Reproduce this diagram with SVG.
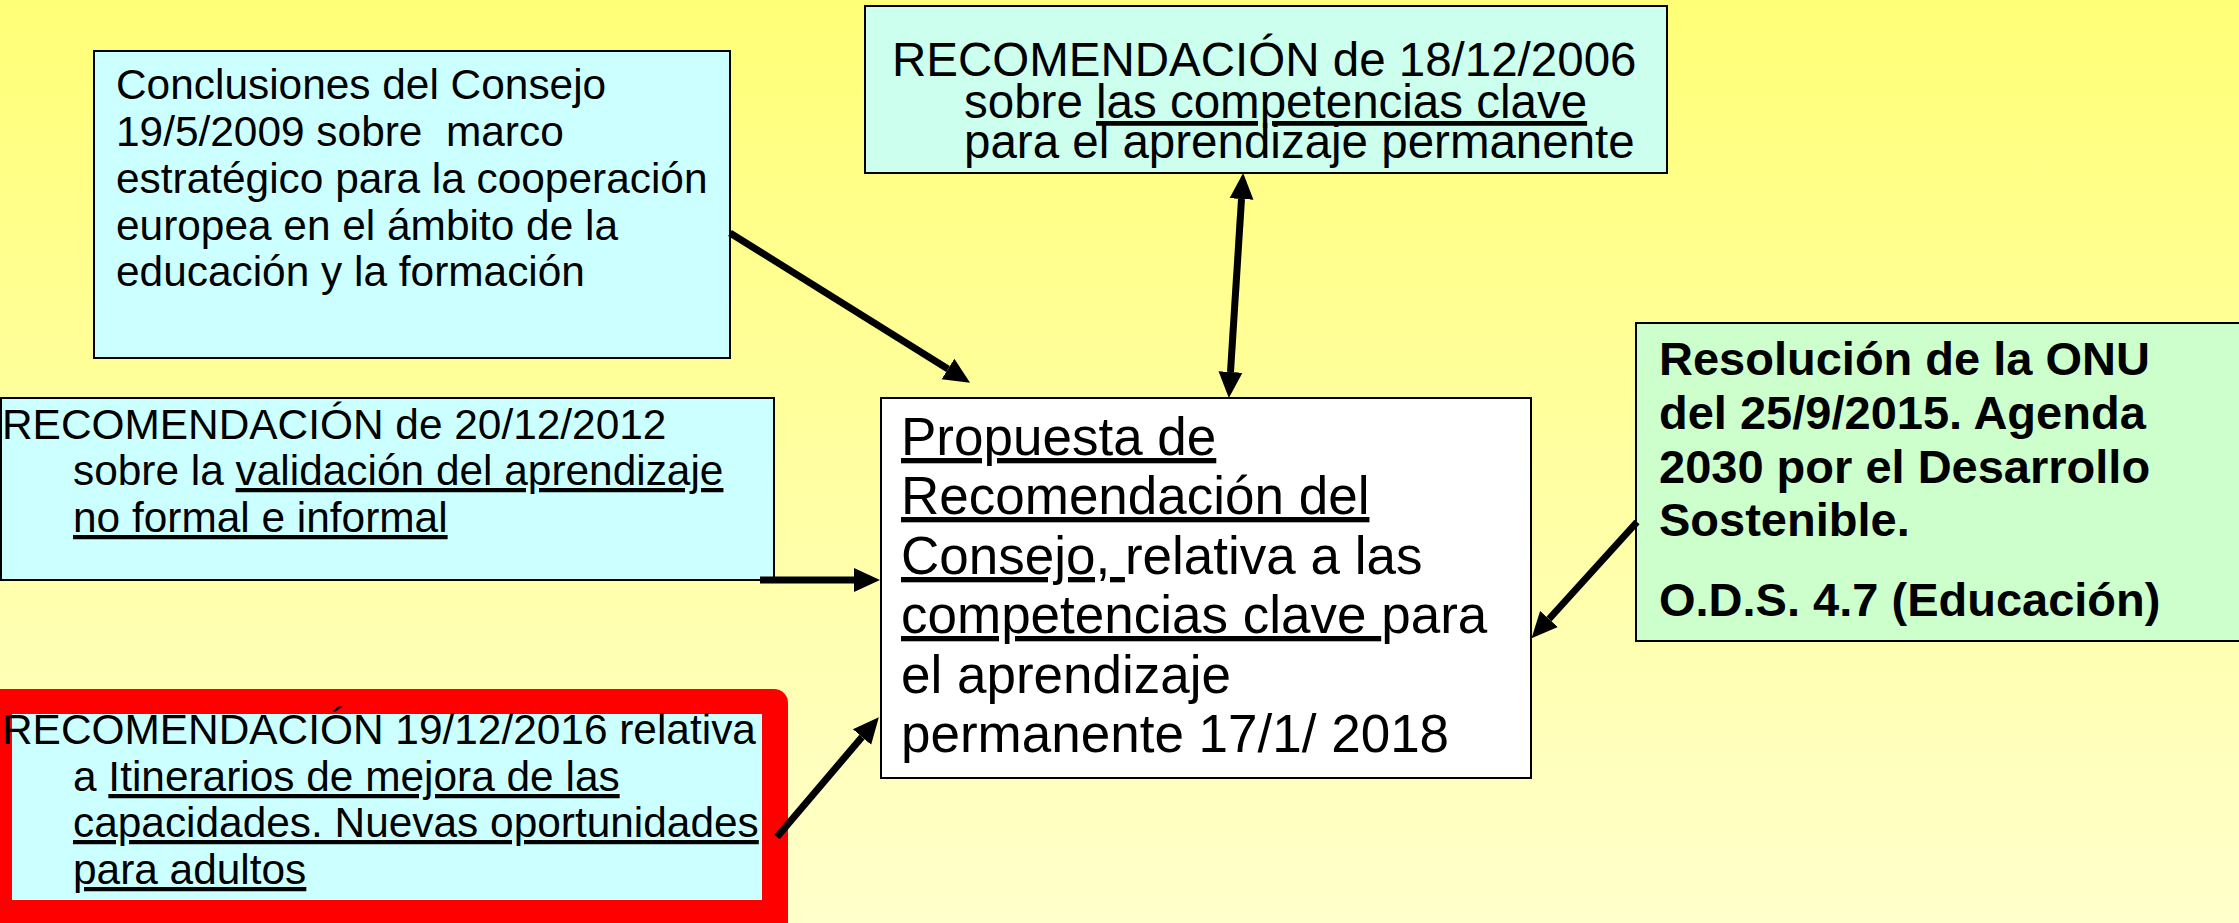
<svg xmlns="http://www.w3.org/2000/svg" width="2239" height="923" viewBox="0 0 2239 923">
<defs>
<linearGradient id="bg" x1="0" y1="0" x2="0" y2="1">
<stop offset="0" stop-color="#FFFF77"/>
<stop offset="1" stop-color="#FFFFCC"/>
</linearGradient>
<marker id="ah" markerUnits="userSpaceOnUse" markerWidth="26" markerHeight="26" refX="0" refY="12" orient="auto-start-reverse" viewBox="0 0 26 24">
<path d="M0,0 L26,12 L0,24 z" fill="#000"/>
</marker>
<style>
text{font-family:"Liberation Sans",Arial,sans-serif;fill:#000;white-space:pre}
.f42{font-size:42.4px}
.f47{font-size:47.5px}
.fb{font-size:47px}
.f52{font-size:53px}
.b{font-weight:bold}
.box{stroke:#000;stroke-width:2}
.u{text-decoration:underline}
.conn line{stroke:#000;stroke-width:7;marker-end:url(#ah)}
</style>
</defs>
<rect x="0" y="0" width="2239" height="923" fill="url(#bg)"/>

<g id="n-conclusiones">
<rect class="box" x="94" y="51" width="636" height="307" fill="#CCFFFF"/>
<text class="f42" x="116" y="99">Conclusiones del Consejo</text>
<text class="f42" x="116" y="146">19/5/2009 sobre  marco</text>
<text class="f42" x="116" y="193">estratégico para la cooperación</text>
<text class="f42" x="116" y="240">europea en el ámbito de la</text>
<text class="f42" x="116" y="286">educación y la formación</text>
</g>

<g id="n-rec2006">
<rect class="box" x="865" y="6" width="802" height="167" fill="#CCFFEE"/>
<text class="f47" x="892" y="76">RECOMENDACIÓN de 18/12/2006</text>
<text class="f47" x="964" y="118">sobre <tspan class="u">las competencias clave</tspan></text>
<text class="f47" x="964" y="158">para el aprendizaje permanente</text>
</g>

<g id="n-rec2012">
<rect class="box" x="1" y="398" width="773" height="182" fill="#CCFFFF"/>
<text class="f42" x="2" y="439">RECOMENDACIÓN de 20/12/2012</text>
<text class="f42" x="73" y="485">sobre la <tspan class="u">validación del aprendizaje</tspan></text>
<text class="f42" x="73" y="532"><tspan class="u">no formal e informal</tspan></text>
</g>

<g id="n-rec2016">
<rect x="-20" y="689" width="808" height="260" rx="14" fill="#FF0000"/>
<rect x="12" y="714" width="750" height="186" fill="#CCFFFF"/>
<text class="f42" x="2" y="744">RECOMENDACIÓN 19/12/2016 relativa</text>
<text class="f42" x="73" y="791">a <tspan class="u">Itinerarios de mejora de las</tspan></text>
<text class="f42" x="73" y="837"><tspan class="u">capacidades. Nuevas oportunidades</tspan></text>
<text class="f42" x="73" y="884"><tspan class="u">para adultos</tspan></text>
</g>

<g id="n-propuesta">
<rect class="box" x="881" y="398" width="650" height="380" fill="#FFFFFF"/>
<text class="f52" x="901" y="455"><tspan class="u">Propuesta de</tspan></text>
<text class="f52" x="901" y="514"><tspan class="u">Recomendación del</tspan></text>
<text class="f52" x="901" y="574"><tspan class="u">Consejo, </tspan>relativa a las</text>
<text class="f52" x="901" y="633"><tspan class="u">competencias clave </tspan>para</text>
<text class="f52" x="901" y="693">el aprendizaje</text>
<text class="f52" x="901" y="752">permanente 17/1/ 2018</text>
</g>

<g id="n-onu">
<rect class="box" x="1636" y="323" width="620" height="318" fill="#CCFFCC"/>
<text class="fb b" x="1659" y="375">Resolución de la ONU</text>
<text class="fb b" x="1659" y="429">del 25/9/2015. Agenda</text>
<text class="fb b" x="1659" y="483">2030 por el Desarrollo</text>
<text class="fb b" x="1659" y="536">Sostenible.</text>
<text class="fb b" x="1659" y="616">O.D.S. 4.7 (Educación)</text>
</g>

<g id="connectors" class="conn">
<line x1="730" y1="233" x2="948" y2="369"/>
<line x1="760" y1="580" x2="854" y2="580"/>
<line x1="777" y1="837" x2="862" y2="737"/>
<line x1="1241.5" y1="199" x2="1230.5" y2="372" style="marker-start:url(#ah)"/>
<line x1="1637" y1="522" x2="1549" y2="619"/>
</g>
</svg>
